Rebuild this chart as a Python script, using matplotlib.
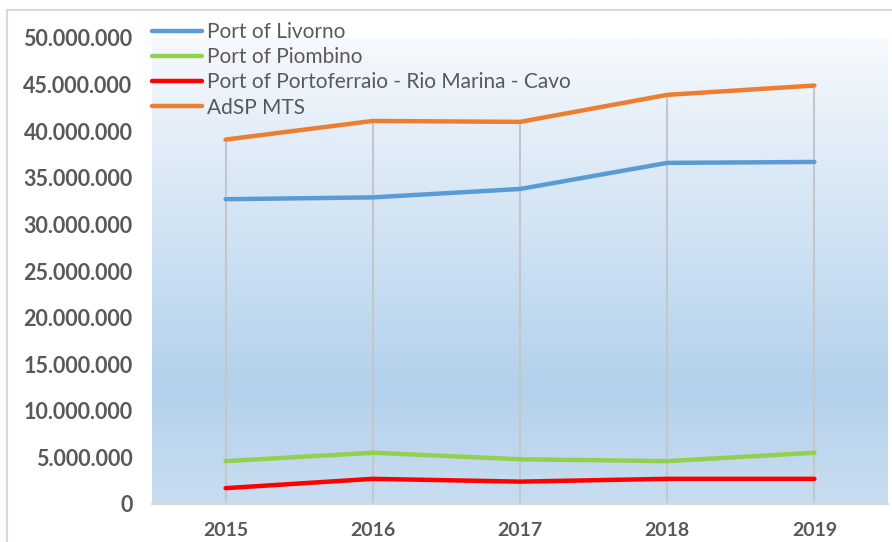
import numpy as np
import matplotlib.pyplot as plt
from matplotlib.colors import LinearSegmentedColormap
from matplotlib.ticker import FuncFormatter
from matplotlib.patches import Rectangle

plt.rcParams['font.family'] = ['Lato', 'DejaVu Sans']

years = ['2015', '2016', '2017', '2018', '2019']
livorno = [32700000, 32900000, 33800000, 36600000, 36700000]
piombino = [4600000, 5500000, 4800000, 4600000, 5500000]
portoferraio = [1700000, 2700000, 2400000, 2700000, 2700000]
adsp = [39100000, 41100000, 41000000, 43900000, 44900000]

names = ['Port of Livorno', 'Port of Piombino',
         'Port of Portoferraio - Rio Marina - Cavo', 'AdSP MTS']
colors = ['#5b9bd5', '#92d050', '#ff0000', '#ed7d31']
series = [livorno, piombino, portoferraio, adsp]

fig = plt.figure(figsize=(8.92, 5.42), dpi=100)
fig.patches.append(Rectangle((7/892, -0.1), 1.2, 1 - 10/542 + 0.1,
                             transform=fig.transFigure, fill=False,
                             edgecolor='#d9d9d9', linewidth=1.5))
ax = fig.add_axes([152/892, 1 - 504/542, 736/892, 466/542])

# background gradient
cmap = LinearSegmentedColormap.from_list('bg', [(0, '#f6f9fd'), (0.75, '#b3d1ec'), (1, '#c9ddf0')])
grad = np.linspace(0, 1, 256).reshape(-1, 1)
ax.imshow(grad, cmap=cmap, aspect='auto', extent=[0, 1, 0, 1],
          transform=ax.transAxes, zorder=0)

x = np.arange(len(years))
tops = np.max(np.array(series), axis=0)
ax.vlines(x, 0, tops, color='#c3c7cb', linewidth=1.5, zorder=1)

for vals, c, n in zip(series, colors, names):
    ax.plot(x, vals, color=c, linewidth=3.2, label=n, zorder=3, solid_capstyle='round')

ax.set_xlim(-0.5, 4.5)
ax.set_ylim(0, 50000000)
ax.set_yticks(np.arange(0, 50000001, 5000000))
ax.yaxis.set_major_formatter(FuncFormatter(lambda v, p: f'{int(v):,}'.replace(',', '.')))
ax.set_xticks(x)
ax.set_xticklabels(years)

for s in ['top', 'right', 'left']:
    ax.spines[s].set_visible(False)
ax.spines['bottom'].set_color('#d9d9d9')
ax.spines['bottom'].set_linewidth(1.5)
ax.tick_params(length=0, colors='#595959')
ax.tick_params(axis='y', pad=14, labelsize=15.5)
ax.tick_params(axis='x', pad=13, labelsize=14)
for lab in ax.get_xticklabels() + ax.get_yticklabels():
    lab.set_fontweight('bold')

leg = fig.legend(loc='upper left', bbox_to_anchor=(152/892, 1 - 22/542),
                 frameon=False, fontsize=15, handlelength=2.4, handletextpad=0.25,
                 labelspacing=0.25, borderpad=0, borderaxespad=0)
for t in leg.get_texts():
    t.set_color('#595959')

fig.savefig('out.png', dpi=100)
